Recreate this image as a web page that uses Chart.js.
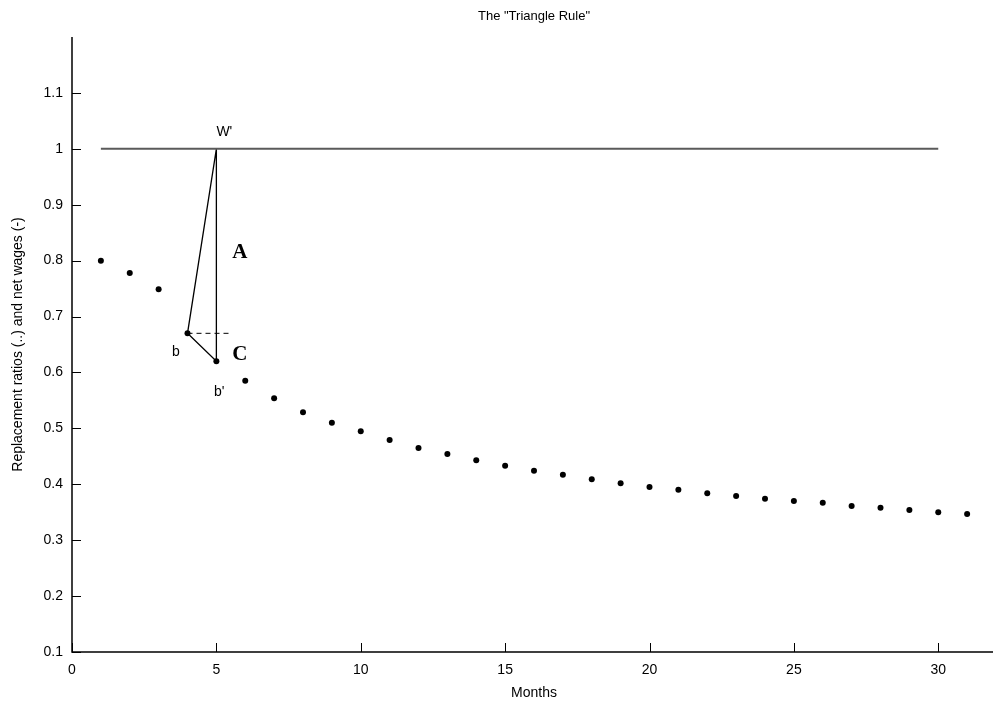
<!DOCTYPE html>
<html>
<head>
<meta charset="utf-8">
<script src="https://cdn.jsdelivr.net/npm/chart.js@4.4.0/dist/chart.umd.min.js"></script>
<style>
  html, body { margin: 0; padding: 0; background: #fff; overflow: hidden; }
  #wrap { width: 1000px; height: 711px; }
</style>
</head>
<body>
<div id="wrap"><canvas id="myChart"></canvas></div>
<script>
const months = [1, 2, 3, 4, 5, 6, 7, 8, 9, 10, 11, 12, 13, 14, 15, 16,
  17, 18, 19, 20, 21, 22, 23, 24, 25, 26, 27, 28, 29, 30, 31];
const ratios = [0.800, 0.778, 0.749, 0.670, 0.620, 0.585, 0.554, 0.529, 0.510, 0.495,
  0.479, 0.465, 0.454, 0.443, 0.433, 0.424, 0.417, 0.409, 0.402, 0.395,
  0.390, 0.384, 0.379, 0.374, 0.370, 0.367, 0.361, 0.358, 0.354, 0.350, 0.347];

const wageX = [1, 30];
const wageY = [1, 1];

const triangleX = [5, 4, 5, 5];
const triangleY = [1, 0.67, 0.62, 1];

const dashX = [4, 5.5];
const dashY = [0.67, 0.67];

const xTicks = [0, 5, 10, 15, 20, 25, 30];
const yTicks = [0.1, 0.2, 0.3, 0.4, 0.5, 0.6, 0.7, 0.8, 0.9, 1, 1.1];

const chartTitle = 'The "Triangle Rule"';

// annotation texts, anchored in data units
const notes = [
  { text: "W'", x: 5, y: 1.03, font: '14px "Liberation Sans", Arial, sans-serif', align: 'left' },
  { text: 'b', x: 3.6, y: 0.637, font: '14px "Liberation Sans", Arial, sans-serif', align: 'center' },
  { text: "b'", x: 5.1, y: 0.565, font: '14px "Liberation Sans", Arial, sans-serif', align: 'center' },
  { text: 'A', x: 5.55, y: 0.814, font: 'bold 21px "Liberation Serif", "Times New Roman", serif', align: 'left' },
  { text: 'C', x: 5.55, y: 0.632, font: 'bold 21px "Liberation Serif", "Times New Roman", serif', align: 'left' },
];

const pts = (xs, ys) => xs.map((x, i) => ({ x: x, y: ys[i] }));

const font = { family: '"Liberation Sans", Arial, sans-serif', size: 14 };

const matlabAxes = {
  id: 'matlabAxes',
  afterDraw(chart) {
    const ctx = chart.ctx;
    const a = chart.chartArea;
    const xs = chart.scales.x, ys = chart.scales.y;
    ctx.save();
    ctx.strokeStyle = '#000';
    ctx.lineWidth = 1.5;
    ctx.beginPath();
    ctx.moveTo(a.left, a.top);
    ctx.lineTo(a.left, a.bottom);
    ctx.lineTo(a.right, a.bottom);
    ctx.stroke();
    ctx.lineWidth = 1;
    ctx.beginPath();
    xTicks.forEach(v => {
      const px = Math.round(xs.getPixelForValue(v)) + 0.5;
      ctx.moveTo(px, a.bottom);
      ctx.lineTo(px, a.bottom - 9);
    });
    yTicks.forEach(v => {
      const py = Math.round(ys.getPixelForValue(v)) + 0.5;
      ctx.moveTo(a.left, py);
      ctx.lineTo(a.left + 9, py);
    });
    ctx.stroke();
    ctx.fillStyle = '#000';
    ctx.textBaseline = 'middle';
    notes.forEach(n => {
      ctx.font = n.font;
      ctx.textAlign = n.align;
      ctx.fillText(n.text, xs.getPixelForValue(n.x), ys.getPixelForValue(n.y));
    });
    // title, centred over the axes like MATLAB does
    ctx.font = '13px "Liberation Sans", Arial, sans-serif';
    ctx.textAlign = 'center';
    ctx.fillText(chartTitle, (a.left + a.right) / 2, 16);
    ctx.restore();
  }
};

const config = {
  type: 'scatter',
  data: {
    datasets: [{
      label: 'wage',
      data: pts(wageX, wageY),
      showLine: true,
      borderColor: '#5a5a5a',
      borderWidth: 2,
      pointRadius: 0,
    }, {
      label: 'triangle',
      data: pts(triangleX, triangleY),
      showLine: true,
      borderColor: '#000',
      borderWidth: 1.3,
      pointRadius: 0,
    }, {
      label: 'dash',
      data: pts(dashX, dashY),
      showLine: true,
      borderColor: '#000',
      borderWidth: 1,
      borderDash: [5, 4],
      pointRadius: 0,
    }, {
      label: 'ratios',
      data: pts(months, ratios),
      backgroundColor: '#000',
      borderColor: '#000',
      pointRadius: 3,
      pointBorderWidth: 0,
    }]
  },
  options: {
    responsive: true,
    maintainAspectRatio: false,
    animation: false,
    layout: { padding: { top: 37 } },
    plugins: {
      legend: { display: false },
      tooltip: { enabled: false },
      title: { display: false }
    },
    scales: {
      x: {
        type: 'linear',
        min: 0,
        max: 32,
        grid: { display: false, drawTicks: false },
        border: { display: false },
        afterBuildTicks: s => { s.ticks = xTicks.map(v => ({ value: v })); },
        afterFit: s => { s.height = 59; },
        ticks: { color: '#000', font: font, padding: 10, maxRotation: 0 },
        title: { display: true, text: 'Months', color: '#000', font: font, padding: { top: 0, bottom: 9 } },
      },
      y: {
        type: 'linear',
        min: 0.1,
        max: 1.2,
        grid: { display: false, drawTicks: false },
        border: { display: false },
        afterBuildTicks: s => { s.ticks = yTicks.map(v => ({ value: v })); },
        afterFit: s => { s.width = 72; },
        ticks: { color: '#000', font: font, padding: 9, callback: v => String(Math.round(v * 10) / 10) },
        title: { display: true, text: 'Replacement ratios (..) and net wages (-)', color: '#000', font: font, padding: { bottom: 0, top: 10 } },
      }
    }
  },
  plugins: [matlabAxes]
};

const myChart = new Chart(document.getElementById('myChart'), config);
</script>
</body>
</html>
